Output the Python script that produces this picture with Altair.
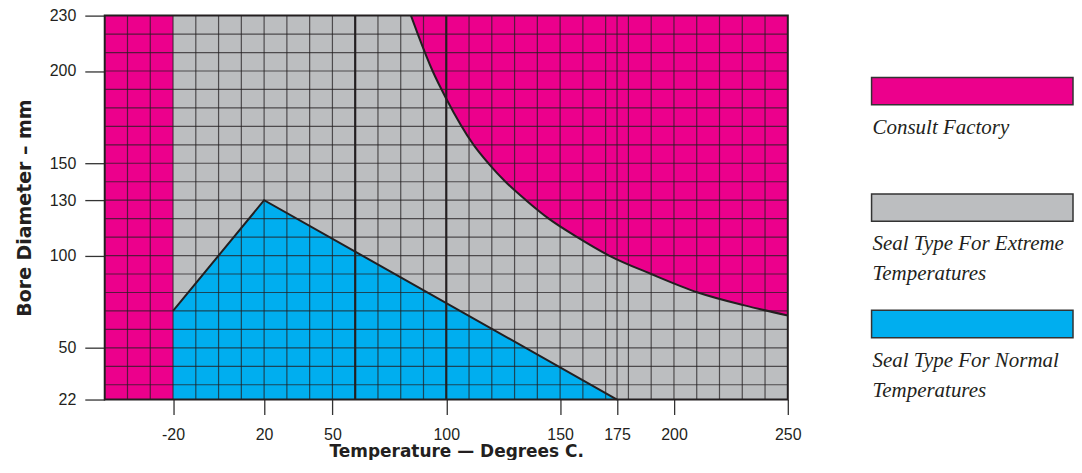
import altair as alt
import pandas as pd

# ---------------- data ----------------
x_domain = [-50, 250]
y_domain = [22, 230]
x_ticks = [-20, 20, 50, 100, 150, 175, 200, 250]
y_ticks = [22, 50, 100, 130, 150, 200, 230]

x_grid = [-40, -30, -20, -10, 0, 10, 20, 30, 40, 50, 70, 80, 90, 110, 120, 130,
          140, 150, 160, 170, 175, 180, 190, 200, 210, 220, 230, 240]
x_grid_major = [60, 100]
y_grid = [30, 40, 50, 60, 70, 80, 90, 100, 110, 120, 130, 140, 150, 160, 170,
          180, 190, 200, 210, 220]

consult_band_x = [-50, -20]
consult_curve_x = [84.5, 87.5, 94, 100, 112, 118.5, 126, 135, 145, 157.5, 171.5, 190, 210.5, 231, 250]
consult_curve_y = [230, 220, 200, 185, 160, 150, 140, 130, 120, 110, 100, 90, 80, 73, 67.5]
normal_x = [-20, 20, 175]
normal_y = [70, 130, 22]

legend_keys = ["consult", "extreme", "normal"]
legend_labels = ["Consult Factory",
                 "Seal Type For Extreme\nTemperatures",
                 "Seal Type For Normal\nTemperatures"]
legend_colors = ["#ec008c", "#bcbec0", "#00aeef"]

INK = "#231f20"
MAGENTA, GRAY, CYAN = legend_colors

# ---------------- frames ----------------
bg_df = pd.DataFrame({"x0": [x_domain[0]], "x1": [x_domain[1]],
                      "y0": [y_domain[0]], "y1": [y_domain[1]]})
band_df = pd.DataFrame({"x0": [consult_band_x[0]], "x1": [consult_band_x[1]],
                        "y0": [y_domain[0]], "y1": [y_domain[1]]})
curve_df = pd.DataFrame({"x": consult_curve_x, "y": consult_curve_y,
                         "top": [y_domain[1]] * len(consult_curve_x)})
normal_df = pd.DataFrame({"x": normal_x, "y": normal_y,
                          "base": [y_domain[0]] * len(normal_x)})
xg_df = pd.DataFrame({"x0": x_grid})
xgm_df = pd.DataFrame({"x0": x_grid_major})
yg_df = pd.DataFrame({"y0": y_grid})
legend_df = pd.DataFrame({"key": legend_keys, "label": legend_labels,
                          "color": legend_colors})

xs = alt.Scale(domain=x_domain, nice=False, zero=False)
ys = alt.Scale(domain=y_domain, nice=False, zero=False)

X_TITLE = "Temperature — Degrees C."
Y_TITLE = "Bore Diameter – mm"

W, H = 685, 385
LEG_W = 202

x_axis = alt.Axis(values=x_ticks, title=X_TITLE, grid=False,
                  domain=False, tickSize=15, tickWidth=1.3, tickColor="#333333",
                  labelFont="Liberation Sans", labelFontSize=16, labelColor=INK,
                  labelPadding=12, labelFlush=False, labelOverlap=False,
                  labelExpr="'' + datum.value",
                  titleFont="DejaVu Sans", titleFontSize=17, titleFontWeight="bold",
                  titleColor=INK, titlePadding=1, titleX=W / 2 + 10)
y_axis = alt.Axis(values=y_ticks, title=Y_TITLE, grid=False,
                  domain=False, tickSize=20, tickWidth=1.3, tickColor="#333333",
                  labelFont="Liberation Sans", labelFontSize=16, labelColor=INK,
                  labelPadding=9, labelFlush=False, labelOverlap=False,
                  labelExpr="'' + datum.value",
                  titleFont="DejaVu Sans", titleFontSize=19, titleFontWeight="bold",
                  titleColor=INK, titlePadding=15)


def X(field):
    return alt.X(field, scale=xs, axis=x_axis, title=X_TITLE)


def Y(field):
    return alt.Y(field, scale=ys, axis=y_axis, title=Y_TITLE)


background = alt.Chart(bg_df).mark_rect(color=GRAY).encode(
    x=X("x0:Q"), x2="x1:Q", y=Y("y0:Q"), y2="y1:Q")

band = alt.Chart(band_df).mark_rect(color=MAGENTA).encode(
    x=X("x0:Q"), x2="x1:Q", y=Y("y0:Q"), y2="y1:Q")

curve_area = alt.Chart(curve_df).mark_area(color=MAGENTA, interpolate="monotone").encode(
    x=X("x:Q"), y=Y("y:Q"), y2="top:Q")

normal_area = alt.Chart(normal_df).mark_area(color=CYAN, interpolate="linear").encode(
    x=X("x:Q"), y=Y("y:Q"), y2="base:Q")

xgrid = alt.Chart(xg_df).mark_rule(color=INK, strokeWidth=1.2, opacity=0.72).encode(
    x=X("x0:Q"))
xgrid_major = alt.Chart(xgm_df).mark_rule(color=INK, strokeWidth=2.2).encode(
    x=X("x0:Q"))
ygrid = alt.Chart(yg_df).mark_rule(color=INK, strokeWidth=1.2, opacity=0.72).encode(
    y=Y("y0:Q"))

curve_line = alt.Chart(curve_df).mark_line(color=INK, strokeWidth=2, interpolate="monotone").encode(
    x=X("x:Q"), y=Y("y:Q"))
normal_line = alt.Chart(normal_df).mark_line(color=INK, strokeWidth=2).encode(
    x=X("x:Q"), y=Y("y:Q"))

frame = alt.Chart(bg_df).mark_rect(fillOpacity=0, stroke=INK, strokeWidth=2).encode(
    x=X("x0:Q"), x2="x1:Q", y=Y("y0:Q"), y2="y1:Q")

main = alt.layer(background, band, curve_area, normal_area, xgrid, ygrid,
                 xgrid_major, curve_line, normal_line, frame).properties(width=W, height=H)

leg_y = alt.Y("key:N", sort=legend_keys, axis=None,
              scale=alt.Scale(type="band", paddingInner=0.765, paddingOuter=0.531))
leg_rect = alt.Chart(legend_df).mark_rect(stroke="#333333", strokeWidth=1.5).encode(
    x=alt.value(0), x2=alt.value(LEG_W), y=leg_y,
    fill=alt.Fill("color:N", scale=None))
leg_text = alt.Chart(legend_df).mark_text(
    align="left", baseline="top", dy=26, lineBreak="\n", lineHeight=30,
    font="Liberation Serif", fontStyle="italic", fontSize=21, color=INK).encode(
    x=alt.value(1), y=leg_y, text="label:N")
legend = alt.layer(leg_rect, leg_text).properties(width=LEG_W, height=H)

chart = alt.hconcat(main, legend, spacing=69).properties(
    padding={"left": 7, "top": -1, "right": 0, "bottom": 0}
).configure_view(strokeWidth=0)

chart.save("out.html", embed_options={"renderer": "svg", "actions": False})
